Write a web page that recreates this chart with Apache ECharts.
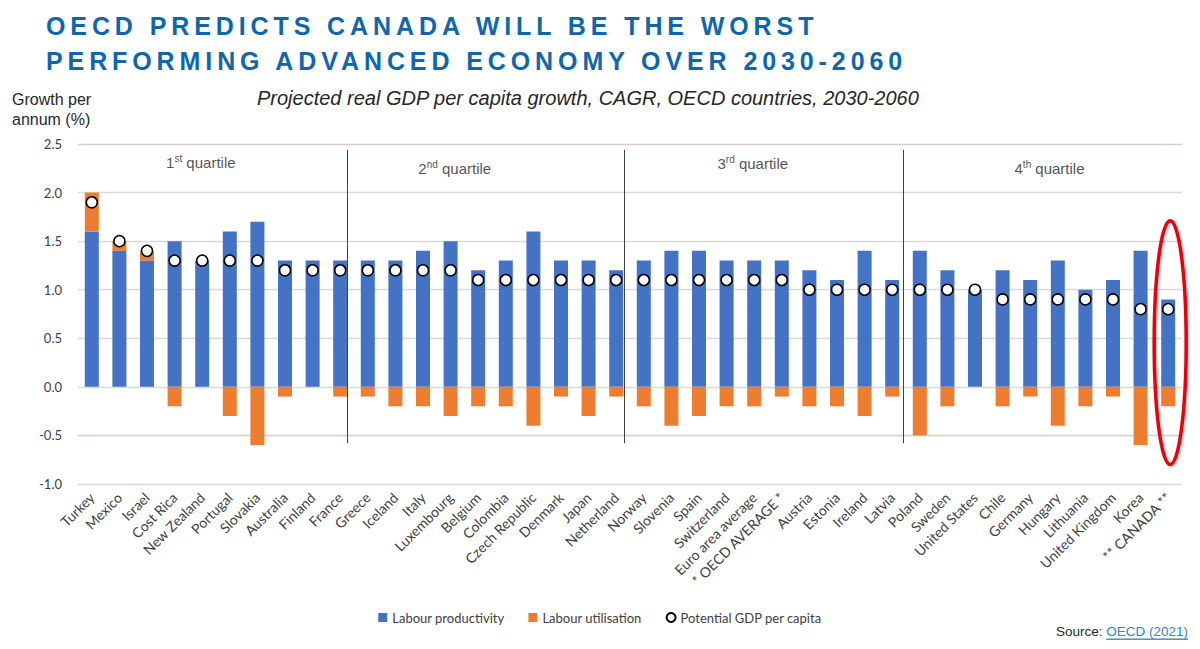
<!DOCTYPE html>
<html>
<head>
<meta charset="utf-8">
<script src="https://cdn.jsdelivr.net/npm/echarts@6/dist/echarts.min.js"></script>
<style>
  html, body { margin: 0; padding: 0; background: #fff; }
  #chart { width: 1200px; height: 649px; }
  /* headline is tracked out like the original slide */
  #chart text[fill="#0f66ad"] { letter-spacing: 4.9px; }
  #chart text[fill="#2f86c0"] { text-decoration: underline; }
</style>
</head>
<body>
<div id="chart"></div>
<script>
const countries = [
  'Turkey', 'Mexico', 'Israel', 'Cost Rica', 'New Zealand', 'Portugal', 'Slovakia', 'Australia', 'Finland', 'France',
  'Greece', 'Iceland', 'Italy', 'Luxembourg', 'Belgium', 'Colombia', 'Czech Republic', 'Denmark', 'Japan', 'Netherland',
  'Norway', 'Slovenia', 'Spain', 'Switzerland', 'Euro area average', '* OECD AVERAGE *', 'Austria', 'Estonia', 'Ireland', 'Latvia',
  'Poland', 'Sweden', 'United States', 'Chile', 'Germany', 'Hungary', 'Lithuania', 'United Kingdom', 'Korea', '** CANADA **'
];
const productivity = [
  1.6, 1.4, 1.3, 1.5, 1.3, 1.6, 1.7, 1.3, 1.3, 1.3,
  1.3, 1.3, 1.4, 1.5, 1.2, 1.3, 1.6, 1.3, 1.3, 1.2,
  1.3, 1.4, 1.4, 1.3, 1.3, 1.3, 1.2, 1.1, 1.4, 1.1,
  1.4, 1.2, 1.0, 1.2, 1.1, 1.3, 1.0, 1.1, 1.4, 0.9
];
const utilisation = [
  0.4, 0.1, 0.1, -0.2, 0, -0.3, -0.6, -0.1, 0, -0.1,
  -0.1, -0.2, -0.2, -0.3, -0.2, -0.2, -0.4, -0.1, -0.3, -0.1,
  -0.2, -0.4, -0.3, -0.2, -0.2, -0.1, -0.2, -0.2, -0.3, -0.1,
  -0.5, -0.2, 0, -0.2, -0.1, -0.4, -0.2, -0.1, -0.6, -0.2
];
const potential = [
  1.9, 1.5, 1.4, 1.3, 1.3, 1.3, 1.3, 1.2, 1.2, 1.2,
  1.2, 1.2, 1.2, 1.2, 1.1, 1.1, 1.1, 1.1, 1.1, 1.1,
  1.1, 1.1, 1.1, 1.1, 1.1, 1.1, 1.0, 1.0, 1.0, 1.0,
  1.0, 1.0, 1.0, 0.9, 0.9, 0.9, 0.9, 0.9, 0.8, 0.8
];
const quartileNames = [['1', 'st'], ['2', 'nd'], ['3', 'rd'], ['4', 'th']];
const yTicks = { min: -1.0, max: 2.5, step: 0.5 };

const BLUE = '#4472c4';
const ORANGE = '#ed7d31';
const TXT = '#404040';
const CAL = 'Lato, "Noto Sans", sans-serif';
const ARIAL = '"Liberation Sans", Arial, sans-serif';

const chart = echarts.init(document.getElementById('chart'), null, { renderer: 'svg' });

// where the quartile captions and divider lines sit, in category units
const captionAt = [[4.45, 2.31], [13.65, 2.25], [24.45, 2.3], [35.2, 2.25]];
const dividerAt = [9.75, 19.8, 29.9];

const option = {
  backgroundColor: '#ffffff',
  animation: false,
  title: [
    {
      text: 'OECD PREDICTS CANADA WILL BE THE WORST\nPERFORMING ADVANCED ECONOMY OVER 2030-2060',
      left: 41, top: 3,
      textStyle: { fontFamily: ARIAL, fontSize: 25, fontWeight: 'bold', color: '#0f66ad', lineHeight: 35 }
    },
    {
      text: 'Projected real GDP per capita growth, CAGR, OECD countries, 2030-2060',
      left: 252, top: 83,
      textStyle: { fontFamily: ARIAL, fontSize: 20, fontStyle: 'italic', fontWeight: 'normal', color: '#262626' }
    },
    {
      text: 'Growth per\nannum (%)',
      left: 7, top: 84,
      textStyle: { fontFamily: ARIAL, fontSize: 16, fontWeight: 'normal', color: '#262626', lineHeight: 20 }
    }
  ],
  legend: {
    data: [
      { name: 'Labour productivity', icon: 'rect' },
      { name: 'Labour utilisation', icon: 'rect' },
      { name: 'Potential GDP per capita', icon: 'circle' }
    ],
    left: 'center', top: 606,
    itemWidth: 9, itemHeight: 9, itemGap: 24,
    textStyle: { fontFamily: CAL, fontSize: 13, color: TXT }
  },
  grid: { left: 78, right: 18, top: 144, bottom: 165, containLabel: false },
  xAxis: [
    {
      type: 'category',
      data: countries,
      axisLine: { show: false },
      axisTick: { show: false },
      axisLabel: { interval: 0, rotate: 45, margin: 11, fontFamily: CAL, fontSize: 14, color: TXT }
    },
    { type: 'value', min: 0, max: countries.length, show: false }
  ],
  yAxis: {
    type: 'value',
    min: yTicks.min, max: yTicks.max, interval: yTicks.step,
    axisLine: { show: false },
    axisTick: { show: false },
    axisLabel: { margin: 16, fontFamily: CAL, fontSize: 13, color: TXT, formatter: v => v.toFixed(1) },
    splitLine: { lineStyle: { color: ['#d9d9d9', '#dccbc8', '#d9d9d9', '#d9d9d9', '#d9d9d9', '#d9d9d9', '#d9d9d9', '#dccbc8'], width: 1.3 } }
  },
  series: [
    {
      name: 'Labour productivity', type: 'bar', stack: 'gdp', barWidth: 14,
      itemStyle: { color: BLUE },
      data: productivity
    },
    {
      name: 'Labour utilisation', type: 'bar', stack: 'gdp', barWidth: 14,
      itemStyle: { color: ORANGE },
      data: utilisation
    },
    {
      name: 'Potential GDP per capita', type: 'scatter', z: 5,
      symbol: 'circle', symbolSize: 11,
      itemStyle: { color: '#ffffff', borderColor: '#000000', borderWidth: 1.5, opacity: 1 },
      data: potential
    },
    {
      name: 'quartiles', type: 'scatter', xAxisIndex: 1, silent: true,
      symbolSize: 0,
      data: captionAt.map((p, i) => [p[0], p[1], quartileNames[i][0], quartileNames[i][1]]),
      label: {
        show: true, position: 'inside',
        formatter: p => `{n|${p.value[2]}}{s|${p.value[3]}}{q| quartile}`,
        rich: {
          n: { fontFamily: ARIAL, fontSize: 15, color: '#262626', lineHeight: 18 },
          s: { fontFamily: ARIAL, fontSize: 10, color: '#262626', verticalAlign: 'top', lineHeight: 18, padding: [0, 0, 6, 0] },
          q: { fontFamily: ARIAL, fontSize: 15, color: '#262626', lineHeight: 18 }
        }
      },
      markLine: {
        silent: true, symbol: 'none',
        label: { show: false },
        lineStyle: { color: '#404040', width: 1, type: 'solid' },
        data: dividerAt.map(x => [{ coord: [x, 2.44] }, { coord: [x, -0.58] }])
      }
    }
  ]
};

chart.setOption(option);

// red ring around Canada, placed through the chart's own scales
const lastCountry = countries[countries.length - 1];
const ringTop = chart.convertToPixel({ xAxisIndex: 0, yAxisIndex: 0 }, [lastCountry, 1.71]);
const ringBot = chart.convertToPixel({ xAxisIndex: 0, yAxisIndex: 0 }, [lastCountry, -0.8]);

chart.setOption({
  graphic: [
    {
      type: 'ellipse', z: 20, silent: true,
      shape: { cx: ringTop[0] + 2, cy: (ringTop[1] + ringBot[1]) / 2, rx: 16, ry: (ringBot[1] - ringTop[1]) / 2 },
      style: { fill: 'none', stroke: '#e8000b', lineWidth: 3.5, shadowBlur: 3, shadowColor: 'rgba(0,0,0,0.25)', shadowOffsetX: 1, shadowOffsetY: 1 }
    },
    {
      type: 'text', right: 12, top: 624, silent: true,
      style: {
        text: '{a|Source: }{b|OECD (2021)}',
        rich: {
          a: { fontFamily: ARIAL, fontSize: 13.5, fill: '#262626' },
          b: { fontFamily: ARIAL, fontSize: 13.5, fill: '#2f86c0' }
        }
      }
    }
  ]
});
</script>
</body>
</html>
